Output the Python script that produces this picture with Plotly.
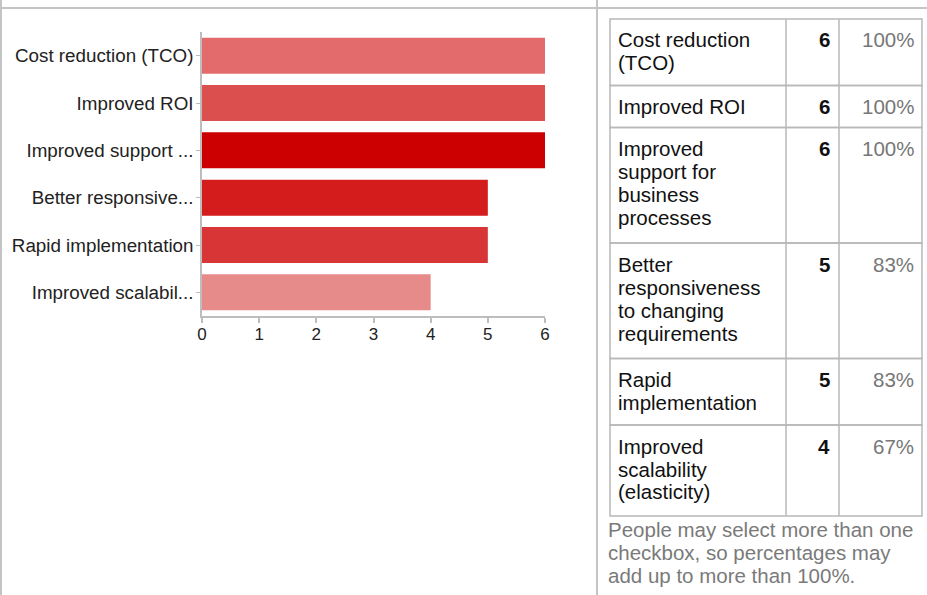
import plotly.graph_objects as go

# Survey answers and how many respondents picked each one
categories = [
    "Cost reduction (TCO)",
    "Improved ROI",
    "Improved support for business processes",
    "Better responsiveness to changing requirements",
    "Rapid implementation",
    "Improved scalability (elasticity)",
]
axis_labels = [
    "Cost reduction (TCO)",
    "Improved ROI",
    "Improved support ...",
    "Better responsive...",
    "Rapid implementation",
    "Improved scalabil...",
]
table_lines = [
    ["Cost reduction", "(TCO)"],
    ["Improved ROI"],
    ["Improved", "support for", "business", "processes"],
    ["Better", "responsiveness", "to changing", "requirements"],
    ["Rapid", "implementation"],
    ["Improved", "scalability", "(elasticity)"],
]
counts = [6, 6, 6, 5, 5, 4]
respondents = 6
bar_colors = ["#e36b6b", "#dc4f4f", "#cc0000", "#d41c1c", "#d83636", "#e78a8a"]
x_ticks = [0, 1, 2, 3, 4, 5, 6]
footnote = ["People may select more than one",
            "checkbox, so percentages may",
            "add up to more than 100%."]

W, H = 927, 595
FONT = "Liberation Sans, Arial, sans-serif"


def px(x):
    return x / W


def py(y):
    return 1 - y / H


fig = go.Figure()
fig.add_trace(go.Bar(
    x=counts,
    y=categories,
    orientation="h",
    marker=dict(color=bar_colors, line=dict(width=0)),
    hoverinfo="x+y",
))

fig.update_layout(
    width=W, height=H,
    autosize=False,
    margin=dict(l=0, r=0, t=0, b=0, pad=0, autoexpand=False),
    paper_bgcolor="white",
    plot_bgcolor="white",
    showlegend=False,
    bargap=0.24,
    font=dict(family=FONT, color="#222222"),
    xaxis=dict(
        domain=[px(202), px(545)],
        range=[0, 6],
        tickvals=x_ticks,
        automargin=False,
        showgrid=False, zeroline=False,
        showline=True, linecolor="#bdbdbd", linewidth=1.5,
        ticks="outside", ticklen=5, tickcolor="#bdbdbd", tickwidth=1.5,
        ticklabelstandoff=-3,
        tickfont=dict(size=17, color="#222222"),
        fixedrange=True,
    ),
    yaxis=dict(
        domain=[py(316), py(32)],
        autorange="reversed",
        tickvals=categories,
        ticktext=axis_labels,
        automargin=False,
        showgrid=False, zeroline=False,
        showline=True, linecolor="#bdbdbd", linewidth=1.5,
        ticks="outside", ticklen=4, tickcolor="#bdbdbd", tickwidth=1,
        ticklabelstandoff=-1,
        tickfont=dict(size=18.8, color="#222222"),
        fixedrange=True,
    ),
)

shapes = []
annotations = []

# Page frame
frame = dict(type="line", xref="paper", yref="paper",
             line=dict(color="#c4c4c4", width=2))
shapes.append(dict(frame, x0=0, x1=1, y0=py(8), y1=py(8)))
shapes.append(dict(frame, x0=px(1), x1=px(1), y0=0, y1=1))
shapes.append(dict(frame, x0=px(597), x1=px(597), y0=0, y1=1))

# Response table
col_x = [610, 786, 839, 922]
table_top = 19
line_pitch = 23
border = dict(color="#b8b8b8", width=1.5)

row_top = table_top
for lines, n in zip(table_lines, counts):
    row_h = 24.5 * len(lines) + 17.5
    row_bottom = row_top + row_h
    shapes.append(dict(type="rect", xref="paper", yref="paper",
                       x0=px(col_x[0]), x1=px(col_x[3]),
                       y0=py(row_bottom), y1=py(row_top), line=border))
    for cx in col_x[1:3]:
        shapes.append(dict(type="line", xref="paper", yref="paper",
                           x0=px(cx), x1=px(cx),
                           y0=py(row_bottom), y1=py(row_top), line=border))
    for i, text in enumerate(lines):
        annotations.append(dict(
            x=px(col_x[0] + 6), y=py(row_top + 21 + i * line_pitch),
            xref="paper", yref="paper", xanchor="left", yanchor="middle",
            text=text, showarrow=False,
            font=dict(family=FONT, size=20.5, color="#111111")))
    annotations.append(dict(
        x=px(col_x[2] - 7), y=py(row_top + 21),
        xref="paper", yref="paper", xanchor="right", yanchor="middle",
        text=f"<b>{n}</b>", showarrow=False,
        font=dict(family=FONT, size=20.5, color="#111111")))
    annotations.append(dict(
        x=px(col_x[3] - 6), y=py(row_top + 21),
        xref="paper", yref="paper", xanchor="right", yanchor="middle",
        text=f"{round(n / respondents * 100)}%", showarrow=False,
        font=dict(family=FONT, size=20.5, color="#777777")))
    row_top = row_bottom

for i, text in enumerate(footnote):
    annotations.append(dict(
        x=px(606), y=py(row_top + 13 + i * line_pitch),
        xref="paper", yref="paper", xanchor="left", yanchor="middle",
        text=text, showarrow=False,
        font=dict(family=FONT, size=20.5, color="#7a7a7a")))

fig.update_layout(shapes=shapes, annotations=annotations)
fig.write_html("out.html")
